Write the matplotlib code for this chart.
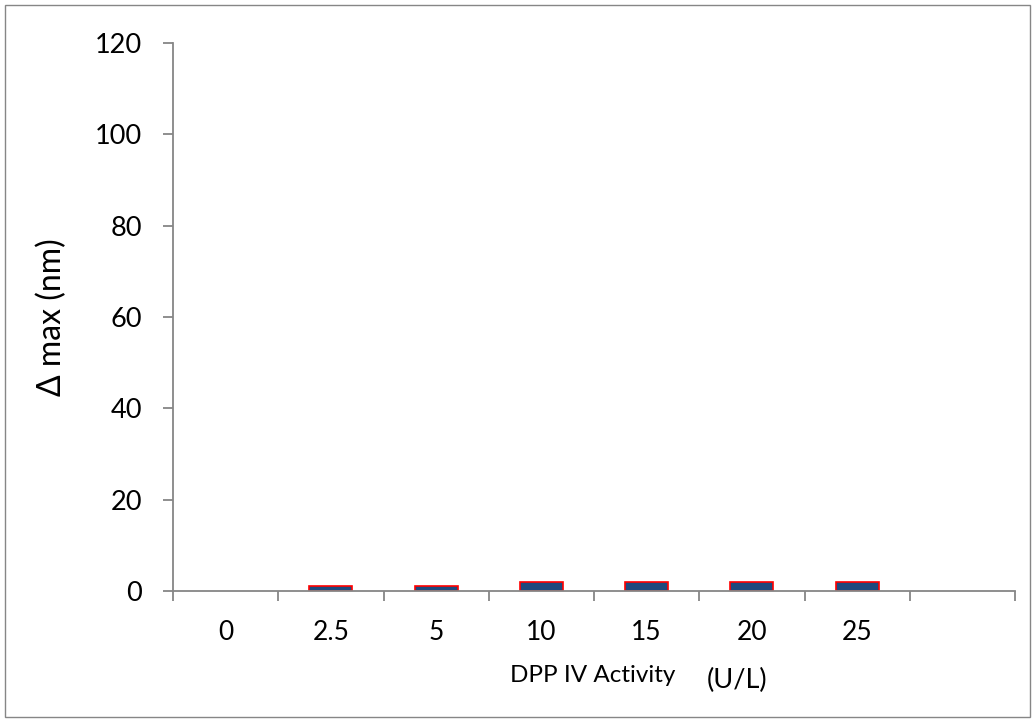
import numpy as np
import matplotlib.pyplot as plt
from matplotlib.patches import Rectangle

plt.rcParams['font.family'] = ['Lato', 'DejaVu Sans']

categories = ['0', '2.5', '5', '10', '15', '20', '25', '']
values = [0, 1, 1, 2, 2, 2, 2, 0]

fig = plt.figure(figsize=(10.36, 7.22), dpi=100)
ax = fig.add_axes([173/1036, 131/722, 842/1036, 548/722])

x = np.arange(len(categories))
# only draw bars that have a height, like Excel does
xs = [xi for xi, v in zip(x, values) if v > 0]
vs = [v for v in values if v > 0]
ax.bar(xs, vs, width=0.41, color='#1F497D', edgecolor='red', linewidth=1.2)

ax.set_xlim(-0.5, len(categories) - 0.5)
ax.set_ylim(0, 120)
ax.set_yticks(range(0, 121, 20))
ax.set_xticks(x)
ax.set_xticklabels(categories, fontsize=19)
ax.set_xticks(np.arange(-0.5, len(categories), 1), minor=True)
ax.tick_params(axis='x', which='major', length=0, pad=21)
ax.tick_params(axis='x', which='minor', length=7.5, width=1.3, color='#868686', direction='out')
ax.tick_params(axis='y', length=7.5, width=1.3, color='#868686', labelsize=19.5, pad=15)

for s in ['top', 'right']:
    ax.spines[s].set_visible(False)
for s in ['left', 'bottom']:
    ax.spines[s].set_color('#868686')
    ax.spines[s].set_linewidth(1.3)

ax.set_ylabel('\u0394 max (nm)', fontsize=23)
ax.yaxis.set_label_coords(-0.126, 0.5)
fig.text(593/1036, 1 - 675/722, 'DPP IV Activity', fontsize=17.5, ha='center', va='center')
fig.text(737/1036, 1 - 680/722, '(U/L)', fontsize=19.5, ha='center', va='center')

fig.patches.append(Rectangle((5/1036, 5/722), 1025/1036, 712/722, transform=fig.transFigure,
                             fill=False, edgecolor='#868686', linewidth=1))

fig.savefig('out.png', dpi=100)
